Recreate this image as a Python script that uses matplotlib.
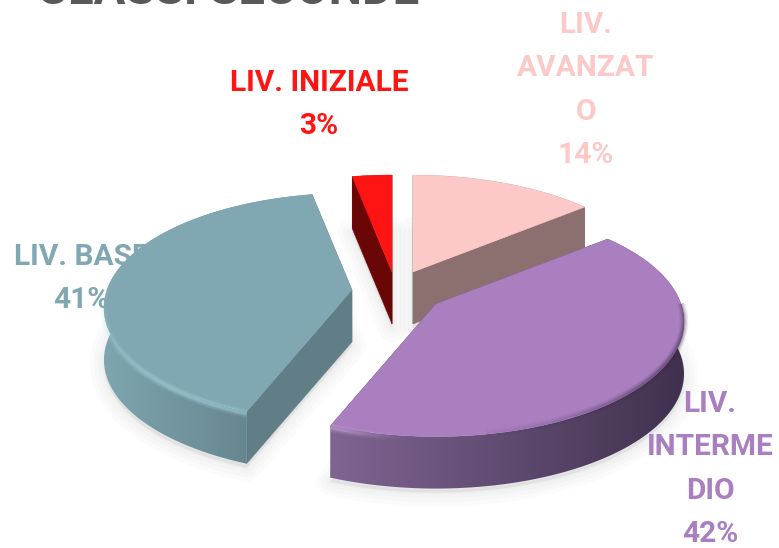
import numpy as np
import matplotlib
matplotlib.use('Agg')
import matplotlib.pyplot as plt
from matplotlib.collections import LineCollection
from matplotlib.colors import LinearSegmentedColormap, to_rgb
from matplotlib.patches import Polygon

# slices, clockwise from 12 o'clock
names = ['LIV. AVANZATO', 'LIV. INTERMEDIO', 'LIV. BASE', 'LIV. INIZIALE']
values = [14, 42, 41, 3]
label_lines = [['LIV.', 'AVANZAT', 'O', '14%'],
               ['LIV.', 'INTERME', 'DIO', '42%'],
               ['LIV. BASE', '41%'],
               ['LIV. INIZIALE', '3%']]
title = 'CLASSI SECONDE'

top_cols = ['#fcc8c8', '#aa7fc0', '#80a7b2', '#ff1414']
wall_cols = ['#8c7070', '#5a4570', '#617e86', '#6b0606']
rim_cols = [('#8c7070', '#8c7070'), ('#7f6592', '#40304e'),
            ('#7ea5af', '#5c7982'), ('#6b0606', '#6b0606')]
# exploded apex of every slice, in pixels
apex = [(413, 272), (436, 304), (352, 290), (392, 272)]
label_pos = [(586, 25), (710, 404), (81, 257), (319, 83)]

A, B, K = 245, 112, 0.155  # ellipse radii and perspective
DEPTH = 52
LINE_H = 43.3

plt.rcParams['font.family'] = ['Roboto', 'DejaVu Sans']
fig = plt.figure(figsize=(7.79, 5.48), dpi=100, facecolor='white')
ax = fig.add_axes([0, 0, 1, 1])


def project(deg, c):
    t = np.radians(deg)
    u, v = np.sin(t), np.cos(t)
    w = 1 + K * v
    return c[0] + A * u / w, c[1] - B * v / w


def draw_rim(x, y, cols):
    # rim with a left to right gradient, clipped to the arc band
    xs = np.r_[x, x[::-1]]
    ys = np.r_[y, y[::-1] + DEPTH]
    patch = Polygon(np.c_[xs, ys], closed=True, fc='none', ec='none')
    ax.add_patch(patch)
    cmap = LinearSegmentedColormap.from_list('rim', cols)
    grad = np.linspace(0, 1, 256).reshape(1, -1)
    im = ax.imshow(grad, cmap=cmap, aspect='auto', zorder=patch.get_zorder(),
                   extent=[xs.min(), xs.max(), ys.max(), ys.min()])
    im.set_clip_path(patch)


def glow(x, y, col, peak, width):
    # soft edge line, alpha follows a bump along the arc
    pts = np.c_[x, y]
    segs = np.stack([pts[:-1], pts[1:]], axis=1)
    s = np.linspace(0, 1, len(segs))
    rgba = np.zeros((len(segs), 4))
    rgba[:, :3] = to_rgb(col)
    rgba[:, 3] = np.exp(-((s - peak) / width) ** 2)
    for lw, k in [(6, 0.12), (4, 0.18), (2, 0.3)]:
        c = rgba.copy()
        c[:, 3] *= k
        ax.add_collection(LineCollection(segs, colors=c, linewidths=lw, capstyle='butt'))


edges = np.r_[0, np.cumsum(values)] * 3.6
wedges = []
for i in range(len(values)):
    d = np.linspace(edges[i], edges[i + 1], 240)
    x, y = project(d, apex[i])
    wedges.append((x, y, d))

# soft shadow first
for i, (x, y, d) in enumerate(wedges):
    px = np.r_[apex[i][0], x]
    py = np.r_[apex[i][1], y] + DEPTH + 4
    for lw in [20, 14, 8, 3]:
        ax.fill(px, py, fc='#888888', ec='#888888', lw=lw, alpha=0.03, joinstyle='round')

for i in [3, 0, 2, 1]:
    x, y, d = wedges[i]
    cx, cy = apex[i]
    # the two cut faces go under the rim
    for j in [0, -1]:
        ax.fill([cx, x[j], x[j], cx], [cy, y[j], y[j] + DEPTH, cy + DEPTH],
                fc=wall_cols[i], ec=wall_cols[i], lw=0.3)
    draw_rim(x, y, rim_cols[i])
    ax.fill(np.r_[cx, x], np.r_[cy, y], fc=top_cols[i], ec=top_cols[i], lw=0.3)

# bevel highlights along the front edges
x, y, d = wedges[2]
m = (d > 201) & (d < 300)
glow(x[m], y[m] + 2, '#b4e2ee', 0.1, 0.45)
x, y, d = wedges[1]
m = d > 170
glow(x[m], y[m] + 2, '#dcb8f0', 1.0, 0.3)
m = (d > 90) & (d < 170)
glow(x[m], y[m] - 1, '#352843', 0.3, 0.45)

for i, lines in enumerate(label_lines):
    lx, ly = label_pos[i]
    for n, line in enumerate(lines):
        ax.text(lx, ly + n * LINE_H, line, color=top_cols[i], fontsize=21.5,
                fontweight='bold', ha='center', va='center')

ax.text(228, 4, title, color='#595959', fontsize=34, fontweight='bold',
        ha='center', va='baseline')

ax.set_xlim(0, 779)
ax.set_ylim(548, 0)
ax.axis('off')
fig.savefig('out.png', dpi=100, facecolor='white')
